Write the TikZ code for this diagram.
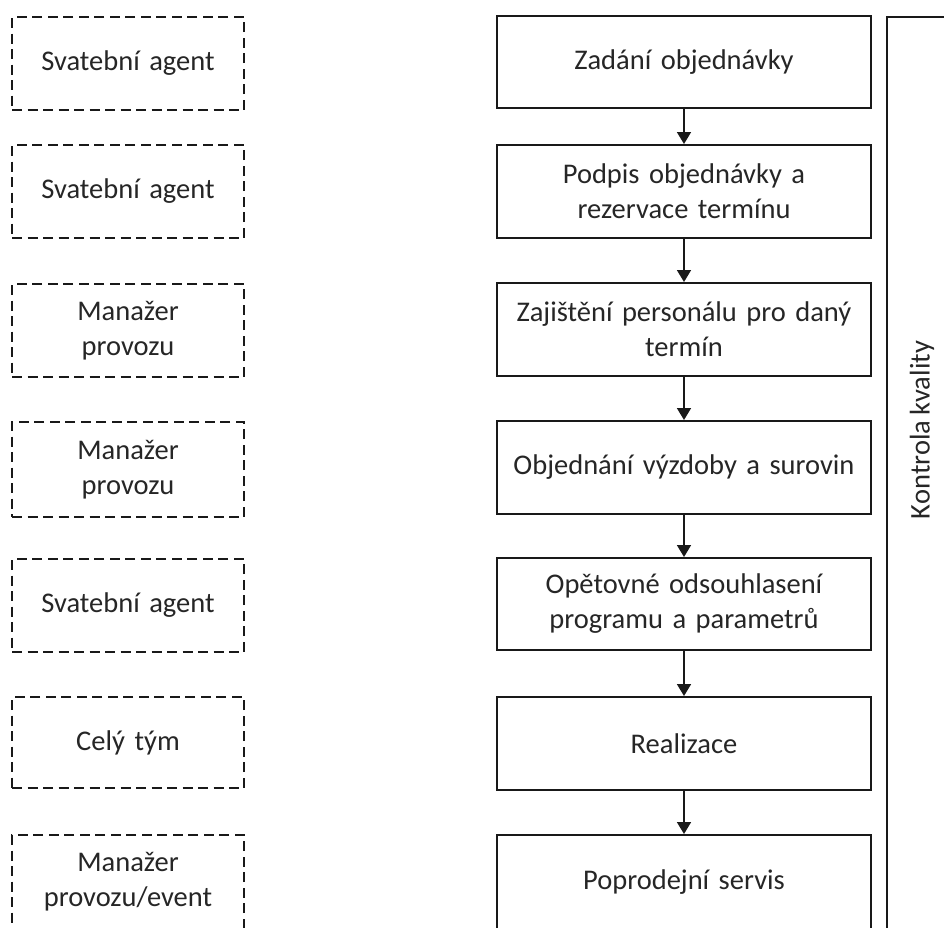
\documentclass[tikz,border=0pt]{standalone}
\usepackage{fontspec}
\setmainfont{Carlito}[WordSpace=0.8]
\usetikzlibrary{arrows.meta}
\begin{document}
\begin{tikzpicture}[x=1pt,y=-1pt,
  every node/.style={text=black!85, font=\fontsize{28.5}{35}\selectfont, align=center, inner sep=0pt},
  procbox/.style={draw=black!90, line width=2pt, minimum width=374pt, text width=360pt},
  rolebox/.style={draw=black!90, line width=2.6pt, dash pattern=on 10pt off 5.5pt, minimum width=232pt, text width=220pt},
  flow/.style={line width=1.8pt, draw=black!90, -{Triangle[width=14pt,length=12pt]}}]
\useasboundingbox (0,0) rectangle (944,927);
\fill[white] (0,0) rectangle (944,927);
\clip (0,0) rectangle (944,927);
% process boxes
\node[procbox, minimum height=92pt] (p1) at (684,62) {Zadání objednávky};
\node[procbox, minimum height=93pt] (p2) at (684,191.5) {Podpis objednávky a\\rezervace termínu};
\node[procbox, minimum height=93pt] (p3) at (684,329.5) {Zajištění personálu pro daný\\termín};
\node[procbox, minimum height=93pt] (p4) at (684,467.5) {Objednání výzdoby a surovin};
\node[procbox, minimum height=92pt] (p5) at (684,604) {Opětovné odsouhlasení\\programu a parametrů};
\node[procbox, minimum height=93pt] (p6) at (684,743.5) {Realizace};
\node[procbox, minimum height=94pt] (p7) at (684,882) {Poprodejní servis};
% role boxes
\node[rolebox, minimum height=93pt] (r1) at (128,63.5) {Svatební agent};
\node[rolebox, minimum height=93pt] (r2) at (128,191.5) {Svatební agent};
\node[rolebox, minimum height=93pt] (r3) at (128,330.5) {Manažer\\provozu};
\node[rolebox, minimum height=95pt] (r4) at (128,469.5) {Manažer\\provozu};
\node[rolebox, minimum height=93pt] (r5) at (128,605.5) {Svatební agent};
\node[rolebox, minimum height=91pt] (r6) at (128,742.5) {Celý tým};
\node[rolebox, minimum height=94pt] (r7) at (128,882) {Manažer\\provozu/event};
% quality control frame
\node[draw=black!90, line width=2pt, minimum width=120pt, minimum height=960pt, anchor=north west] (kk) at (886,16) {};
\node[rotate=90] (kkt) at (922,430) {Kontrola kvality};
% connectors
\draw[flow] (p1) -- (p2);
\draw[flow] (p2) -- (p3);
\draw[flow] (p3) -- (p4);
\draw[flow] (p4) -- (p5);
\draw[flow] (p5) -- (p6);
\draw[flow] (p6) -- (p7);
\end{tikzpicture}
\end{document}
